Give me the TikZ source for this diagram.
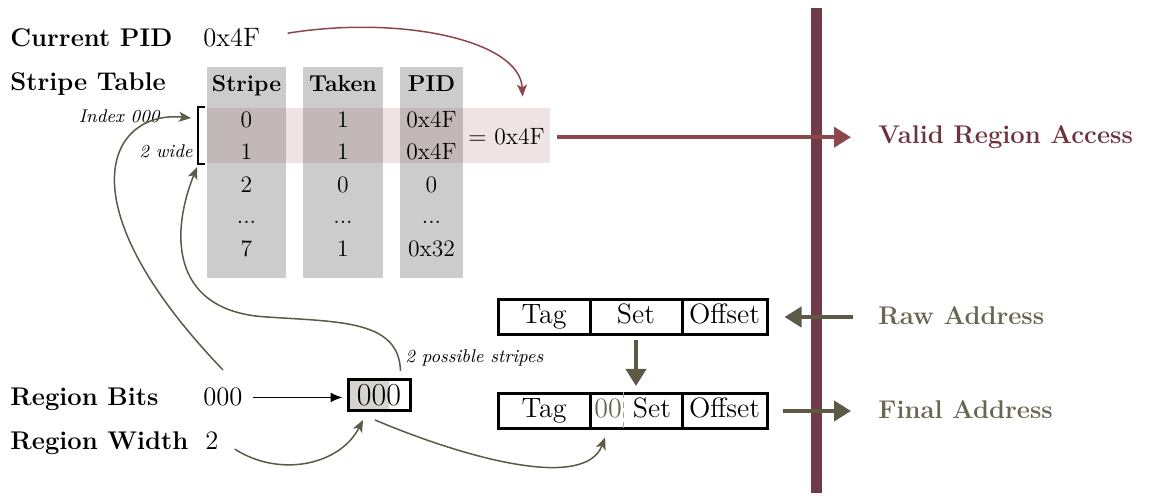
\documentclass[tikz,border=0pt]{standalone}
\usepackage{fontspec}
\usepackage{xcolor}
\usepackage{tikz}
\usetikzlibrary{arrows.meta,backgrounds,calc}
\definecolor{wine}{HTML}{6E3B47}
\definecolor{winearrow}{HTML}{8C474D}
\definecolor{winetext}{HTML}{6E343E}
\definecolor{mossline}{HTML}{5C5946}
\definecolor{mosstext}{HTML}{6A6652}
\definecolor{cellgray}{HTML}{CCCCCC}
\definecolor{hlgray}{HTML}{D6D4CF}
\tikzstyle{lbl}=[font=\fontsize{12.8}{15}\selectfont\bfseries, anchor=base west, inner sep=0pt]
\tikzstyle{val}=[font=\fontsize{13.3}{16}\selectfont, anchor=base west, inner sep=0pt]
\tikzstyle{cell}=[font=\fontsize{11.8}{14}\selectfont, anchor=base, inner sep=0pt]
\tikzstyle{hdr}=[cell, font=\fontsize{11.5}{14}\selectfont\bfseries]
\tikzstyle{note}=[font=\fontsize{9.2}{11}\selectfont\itshape, inner sep=0pt]
\tikzstyle{field}=[draw, line width=1.5pt, minimum height=17.5pt, text height=9.5pt, text depth=2.7pt, inner sep=0pt, font=\fontsize{14}{16}\selectfont]
\tikzstyle{link}=[mossline, line width=0.75pt, -{Stealth[length=6pt,width=5pt,inset=1.5pt]}]
\tikzstyle{fat}=[line width=2pt, -{Triangle[length=8.5pt,width=10pt]}]
\begin{document}
\begin{tikzpicture}[x=0.5pt,y=-0.5pt]
\useasboundingbox (0,0) rectangle (1152,502);
% table columns and the selected rows
\fill[cellgray] (207,67) rectangle (286,278);
\fill[cellgray] (303,67) rectangle (383,278);
\fill[cellgray] (400,67) rectangle (463,278);
\fill[winearrow, opacity=0.15] (207,108) rectangle (550,163);
% left labels
\node[lbl] (pidlbl) at (10,47) {Current PID};
\node[val] (pidval) at (203,47) {0x4F};
\node[lbl] (tablbl) at (10,91) {Stripe Table};
\node[lbl] (bitslbl) at (10,406) {Region Bits};
\node[val] (bitsval) at (203,406) {000};
\node[lbl] (widthlbl) at (10,450) {Region Width};
\node[val] (widthval) at (205,450) {2};
% stripe table
\node[hdr] (hstripe) at (246.5,92) {Stripe};
\node[hdr] (htaken) at (343,92) {Taken};
\node[hdr] (hpid) at (431.5,92) {PID};
\node[cell] (s0) at (246.5,128) {0};
\node[cell] (t0) at (343,128) {1};
\node[cell] (p0) at (431.5,128) {0x4F};
\node[cell] (s1) at (246.5,160) {1};
\node[cell] (t1) at (343,160) {1};
\node[cell] (p1) at (431.5,160) {0x4F};
\node[cell] (s2) at (246.5,193) {2};
\node[cell] (t2) at (343,193) {0};
\node[cell] (p2) at (431.5,193) {0};
\node[cell] (sdots) at (246.5,224) {...};
\node[cell] (tdots) at (343,224) {...};
\node[cell] (pdots) at (431.5,224) {...};
\node[cell] (s7) at (246.5,257) {7};
\node[cell] (t7) at (343,257) {1};
\node[cell] (p7) at (431.5,257) {0x32};
\node[cell, anchor=base west] (eqpid) at (468,145) {$=$ 0x4F};
% bracket and notes
\draw[line width=0.8pt] (205,107) -- (198,107) -- (198,164) -- (205,164);
\coordinate (brtop) at (191,118);
\coordinate (brbot) at (197,167);
\node[note, anchor=base east] (idxnote) at (160,123) {Index 000};
\node[note, anchor=base east] (widenote) at (193,158) {2 wide};
\node[note, anchor=base west] (stripenote) at (405,363) {2 possible stripes};
% region bits box
\node[draw, line width=1.5pt, minimum width=31pt, minimum height=15.5pt, inner sep=0pt, text height=11pt, text depth=0pt, font=\fontsize{16}{18}\selectfont] (regbox) at (379,395) {000};
\begin{scope}[on background layer]
\fill[hlgray] (regbox.south west) rectangle ($(regbox.north west)!0.66!(regbox.north east)$);
\end{scope}
% addresses
\node[field, minimum width=46pt] (rtag) at (544,317) {Tag};
\node[field, minimum width=46pt] (rset) at (636,317) {Set};
\node[field, minimum width=42.5pt] (roff) at (724.5,317) {Offset};
\node[field, minimum width=46pt] (ftag) at (544,411) {Tag};
\node[field, minimum width=46pt] (fset) at (636,411) {};
\node[field, draw=none, text=mosstext] (fzero) at (608,411) {00};
\node[field, draw=none] (fsettext) at (652,411) {Set};
\draw[black!35, densely dashed, line width=0.5pt] (fzero.north east) -- (fzero.south east);
\node[field, minimum width=42.5pt] (foff) at (724.5,411) {Offset};
% boundary
\draw[wine, line width=5.5pt] (816,8) -- (816,493);
\node[lbl, text=winetext] (validlbl) at (878,144) {Valid Region Access};
\node[lbl, text=mosstext] (rawlbl) at (878,325) {Raw Address};
\node[lbl, text=mosstext] (finlbl) at (878,419) {Final Address};
% connectors
\draw[fat, winearrow, shorten <=6pt, shorten >=13.5pt] (eqpid.east) -- (eqpid.east -| validlbl.west);
\draw[fat, mossline, shorten <=12.5pt, shorten >=8pt] (rawlbl.west |- roff.east) -- (roff.east);
\draw[fat, mossline, shorten <=7pt, shorten >=13.5pt] (foff.east) -- (foff.east -| finlbl.west);
\draw[fat, mossline, shorten <=2pt, shorten >=3pt] (rset) -- (fset);
\draw[line width=0.75pt, -{Latex[length=6pt,width=5pt]}, shorten <=5pt, shorten >=2pt] (bitsval.east) -- (bitsval.east -| regbox.west);
\draw[link, winearrow] ([xshift=13.5pt,yshift=2.5pt]pidval.east) .. controls (400,15) and (520,40) .. ([xshift=8pt,yshift=16pt]eqpid.north);
\draw[link] ([yshift=9pt]bitsval.north) .. controls (60,200) and (110,110) .. (brtop);
\draw[link] ([xshift=-5.5pt,yshift=3.5pt]regbox.north east) .. controls (399,320) and (340,322) .. (267,317) .. controls (175,312) and (168,240) .. (brbot);
\draw[link] ([xshift=8pt,yshift=-4pt]widthval.east) .. controls (280,478) and (340,465) .. ([xshift=-8pt,yshift=-4pt]regbox.south);
\draw[link, shorten >=4pt] ([xshift=-2pt,yshift=-4pt]regbox.south) .. controls (470,460) and (585,490) .. (fset.south -| fzero);
\end{tikzpicture}
\end{document}
